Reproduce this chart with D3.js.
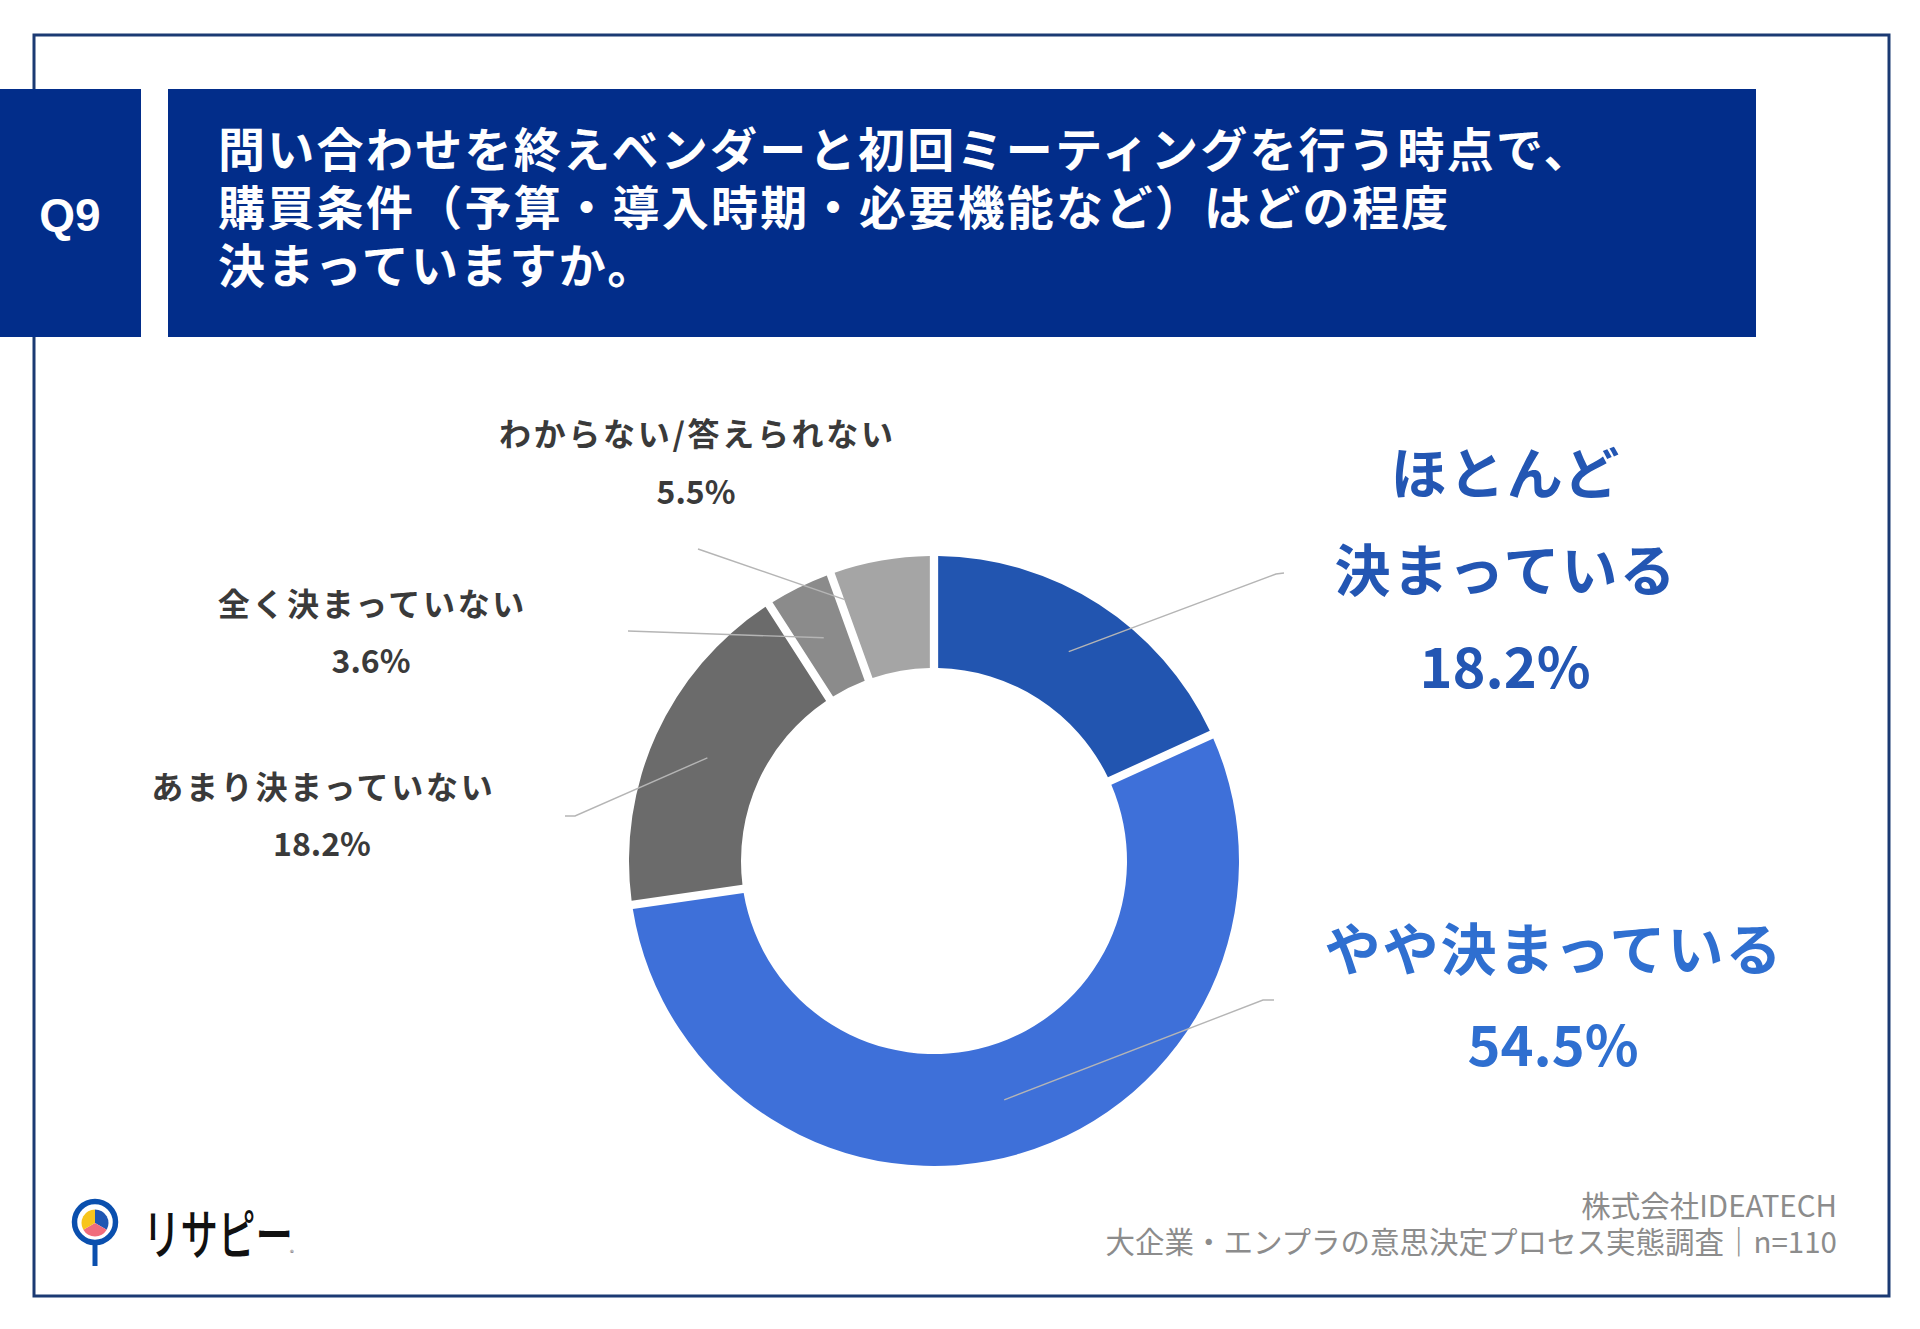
<!DOCTYPE html>
<html><head><meta charset="utf-8">
<script src="https://cdn.jsdelivr.net/npm/d3@7"></script>
<style>body{margin:0;background:#fff} svg{display:block}</style>
</head><body><svg id="c" width="1920" height="1329"></svg>
<script>
// ---- data ----
const categories = ["ほとんど決まっている","やや決まっている","あまり決まっていない","全く決まっていない","わからない/答えられない"];
const values = [18.2, 54.5, 18.2, 3.6, 5.5];
const valueLabels = ["18.2%","54.5%","18.2%","3.6%","5.5%"];
const labelLines = [["ほとんど","決まっている"],["やや決まっている"],["あまり決まっていない"],["全く決まっていない"],["わからない/答えられない"]];
const colors = ["#2255b0","#3e70d9","#6b6b6b","#8b8b8b","#a5a5a5"];
const titleLines = ["問い合わせを終えベンダーと初回ミーティングを行う時点で、","購買条件（予算・導入時期・必要機能など）はどの程度","決まっていますか。"];
const qLabel = "Q9";
const footerLines = ["株式会社IDEATECH","大企業・エンプラの意思決定プロセス実態調査｜n=110"];
const logoText = "リサピー";

// ---- layout ----
const W = 1920, H = 1329;
const cx = 934, cy = 861, rOuter = 305, rInner = 193;
const labelLayout = [
  {x:1505, y:473, lh:97, size:56, ls:2, color:"#2356b3", pts:[[1284,573],[1276,574]], t:1},
  {x:1553, y:949, lh:96, size:56, ls:2, color:"#2f6fd0", pts:[[1274,1000],[1263,1000]], t:1},
  {x:322, y:787, lh:57, size:32, ls:2.7, color:"#3a3a3a", pts:[[565,816],[575,816]], t:1},
  {x:371, y:604, lh:57, size:32, ls:2.7, color:"#3a3a3a", pts:[[628,631]], t:1},
  {x:696, y:434, lh:58, size:32, ls:2.7, color:"#3a3a3a", pts:[[698,549]], t:0.76}
];
const JP = "'Noto Sans CJK JP','Noto Sans',sans-serif";

const svg = d3.select("#c");

// outer frame
svg.append("rect").attr("x",34).attr("y",35).attr("width",1855).attr("height",1261)
  .attr("fill","none").attr("stroke","#1b3a73").attr("stroke-width",3);

// header boxes
svg.append("rect").attr("x",0).attr("y",89).attr("width",141).attr("height",248).attr("fill","#022d8a");
svg.append("rect").attr("x",168).attr("y",89).attr("width",1588).attr("height",248).attr("fill","#022d8a");
svg.append("text").attr("x",70).attr("y",214).attr("dy","0.36em").attr("text-anchor","middle")
  .attr("fill","#fff").attr("font-family","'Liberation Sans',Arial,sans-serif").attr("font-weight","bold")
  .attr("font-size",46).text(qLabel);
svg.append("g").selectAll("text").data(titleLines).join("text")
  .attr("x",218).attr("y",(d,i)=>150+i*58).attr("dy","0.37em")
  .attr("fill","#fff").attr("font-family",JP).attr("font-weight","bold")
  .attr("font-size",47).attr("letter-spacing",2.3).text(d=>d);

// donut
const pie = d3.pie().sort(null).value(d=>d);
const arcs = pie(values);
const arc = d3.arc().innerRadius(rInner).outerRadius(rOuter).padAngle(0.023);
const g = svg.append("g").attr("transform",`translate(${cx},${cy})`);
g.selectAll("path").data(arcs).join("path").attr("d",arc).attr("fill",(d,i)=>colors[i]);

// leader lines
const lineGen = d3.line();
arcs.forEach((a,i)=>{
  const L = labelLayout[i];
  const c = arc.centroid(a);
  const cAbs = [cx+c[0], cy+c[1]];
  const last = L.pts[L.pts.length-1];
  const end = [last[0]+(cAbs[0]-last[0])*L.t, last[1]+(cAbs[1]-last[1])*L.t];
  svg.append("path").attr("d",lineGen([...L.pts,end])).attr("fill","none")
    .attr("stroke","#b5b5b5").attr("stroke-width",1.4);
});

// labels
categories.forEach((cat,i)=>{
  const L = labelLayout[i];
  const lines = [...labelLines[i], valueLabels[i]];
  const n = lines.length;
  svg.append("g").selectAll("text").data(lines).join("text")
    .attr("x",(d,k)=> L.x + (k<n-1 ? L.ls/2 : 0)).attr("y",(d,k)=>L.y+k*L.lh).attr("dy","0.37em")
    .attr("text-anchor","middle").attr("fill",L.color)
    .attr("font-family",JP).attr("font-weight","bold").attr("font-size",L.size)
    .attr("letter-spacing",(d,k)=> k<n-1 ? L.ls : 0).text(d=>d);
});

// footer
svg.append("g").selectAll("text").data(footerLines).join("text")
  .attr("x",1837).attr("y",(d,i)=>1206+i*36).attr("dy","0.37em").attr("text-anchor","end")
  .attr("fill","#8c8c8c").attr("font-family",JP).attr("font-size",29.5).text(d=>d);

// logo
const logo = svg.append("g");
logo.append("line").attr("x1",95).attr("x2",95).attr("y1",1240).attr("y2",1266)
  .attr("stroke","#0a4fae").attr("stroke-width",5);
logo.append("circle").attr("cx",95).attr("cy",1222).attr("r",20.5).attr("fill","#fff")
  .attr("stroke","#0a4fae").attr("stroke-width",5.5);
const lp = d3.pie().sort(null).value(d=>d)([1,1,1]);
const la = d3.arc().innerRadius(0).outerRadius(13.5);
logo.append("g").attr("transform","translate(95,1223)").selectAll("path").data(lp).join("path")
  .attr("d",la).attr("fill",(d,i)=>["#1f57b3","#f06c7c","#f7c51c"][i]);
logo.append("text").attr("x",143).attr("y",1235).attr("dy","0.37em")
  .attr("font-family",JP).attr("font-weight",500).attr("font-size",54).attr("fill","#111")
  .attr("textLength",150).attr("lengthAdjust","spacingAndGlyphs").text(logoText);
logo.append("text").attr("x",290).attr("y",1256).attr("font-family",JP).attr("font-size",8)
  .attr("fill","#555").text("®");
</script></body></html>
